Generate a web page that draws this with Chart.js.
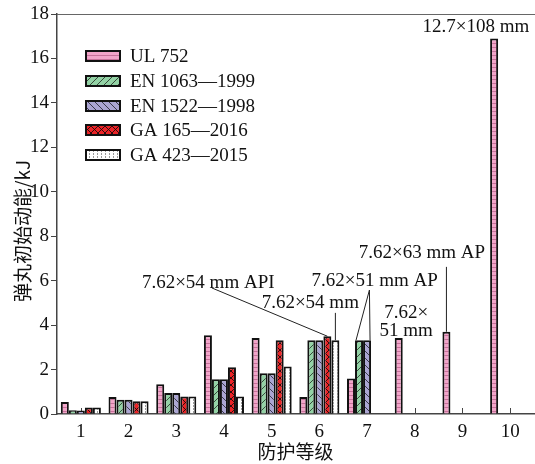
<!DOCTYPE html>
<html>
<head>
<meta charset="utf-8">
<script src="https://cdn.jsdelivr.net/npm/chart.js@4/dist/chart.umd.min.js"></script>
<style>
html,body{margin:0;padding:0;background:#fff;}
canvas{display:block;}
</style>
</head>
<body>
<canvas id="c" width="535" height="464"></canvas>
<script>
// ---- data ----
const categories = ['1','2','3','4','5','6','7','8','9','10'];
const seriesNames = ['UL 752','EN 1063\u20141999','EN 1522\u20141998','GA 165\u20142016','GA 423\u20142015'];
const ul752   = [0.54, 0.76, 1.34, 3.54, 3.42, 0.76, 1.60, 3.42, 3.70, 16.90];
const en1063  = [0.17, 0.64, 0.94, 1.56, 1.83, 3.32, 3.32, null, null, null];
const en1522  = [0.16, 0.64, 0.94, 1.56, 1.83, 3.32, 3.32, null, null, null];
const ga165   = [0.29, 0.57, 0.79, 2.10, 3.32, 3.50, null, null, null, null];
const ga423   = [0.29, 0.57, 0.79, 0.79, 2.14, 3.32, null, null, null, null];
const yTicks  = [0,2,4,6,8,10,12,14,16,18];
const yTitle = '弹丸初始动能/kJ';
const xTitle = '防护等级';

// ---- patterns ----
function pat(w,h,draw){
  const c=document.createElement('canvas'); c.width=w; c.height=h;
  const g=c.getContext('2d'); draw(g,w,h);
  return document.getElementById('c').getContext('2d').createPattern(c,'repeat');
}
const pUL = pat(8,4,(g,w,h)=>{g.fillStyle='#f2a4c9';g.fillRect(0,0,w,h);g.fillStyle='#c7719a';g.fillRect(0,3,w,1);});
const pEN1 = pat(7,7,(g,w,h)=>{g.fillStyle='#93d2a5';g.fillRect(0,0,w,h);g.strokeStyle='#2a3a2e';g.lineWidth=0.9;
  g.beginPath();g.moveTo(-1,h+1);g.lineTo(w+1,-1);g.stroke();});
const pEN2 = pat(7,7,(g,w,h)=>{g.fillStyle='#aba5d3';g.fillRect(0,0,w,h);g.strokeStyle='#2e2c3c';g.lineWidth=0.9;
  g.beginPath();g.moveTo(-1,-1);g.lineTo(w+1,h+1);g.stroke();});
const pGA1 = pat(7,7,(g,w,h)=>{g.fillStyle='#ea2326';g.fillRect(0,0,w,h);g.strokeStyle='#1a0a0a';g.lineWidth=0.9;
  g.beginPath();g.moveTo(-1,-1);g.lineTo(w+1,h+1);g.moveTo(-1,h+1);g.lineTo(w+1,-1);g.stroke();});
const pGA2 = pat(4,3,(g,w,h)=>{g.fillStyle='#ffffff';g.fillRect(0,0,w,h);g.fillStyle='#9a9a9a';g.fillRect(1,0,1,2);});
const fills = [pUL,pEN1,pEN2,pGA1,pGA2];
const seriesData = [ul752,en1063,en1522,ga165,ga423];

const serif = '"Liberation Serif","DejaVu Serif",serif';
const cjk = '"Noto Sans CJK SC","Noto Sans CJK JP",sans-serif';

// annotation positions in data units (category index, value)
const annotations = [
  {text:'12.7\u00d7108 mm', x:8.28, y:17.42},
  {text:'7.62\u00d763 mm AP', x:7.15, y:7.25},
  {text:'7.62\u00d751 mm AP', x:6.16, y:5.99},
  {text:'7.62\u00d754 mm API', x:2.67, y:5.90},
  {text:'7.62\u00d754 mm', x:4.81, y:5.00},
  {text:'7.62\u00d7', x:6.82, y:4.55},
  {text:'51 mm', x:6.82, y:3.74}
];

const decor = {
  id:'decor',
  beforeDatasetsDraw(chart){
    const {ctx,chartArea:a,scales:{x}}=chart;
    ctx.save();
    ctx.strokeStyle='#444';ctx.lineWidth=1;
    categories.forEach((c,i)=>{const px=Math.round(x.getPixelForValue(i))+0.5;
      ctx.beginPath();ctx.moveTo(px,a.bottom);ctx.lineTo(px,a.bottom-6);ctx.stroke();});
    ctx.strokeStyle='#666';ctx.lineWidth=1.2;
    ctx.beginPath();ctx.moveTo(a.left,a.top+0.5);ctx.lineTo(chart.width,a.top+0.5);ctx.stroke();
    ctx.restore();
  },
  afterDraw(chart){
    const {ctx,chartArea:a,scales:{x,y}}=chart;
    ctx.save();
    const rows=[56,81,106,130,155];
    ctx.font='19px '+serif;ctx.textBaseline='middle';ctx.textAlign='left';
    seriesNames.forEach((n,i)=>{
      const yy=rows[i];
      ctx.fillStyle=fills[i];ctx.fillRect(85,yy-6,36,12);
      ctx.strokeStyle='#111';ctx.lineWidth=2;ctx.strokeRect(86,yy-5,34,10);
      ctx.fillStyle='#111';ctx.fillText(n,130,yy+1);
    });
    ctx.font='19px '+serif;ctx.textAlign='center';ctx.fillStyle='#111';
    annotations.forEach(an=>{ctx.fillText(an.text,x.getPixelForValue(an.x),y.getPixelForValue(an.y));});
    const bar=(ds,i)=>chart.getDatasetMeta(ds).data[i];
    ctx.strokeStyle='#222';ctx.lineWidth=1;
    const line=(x1,y1,x2,y2)=>{ctx.beginPath();ctx.moveTo(x1,y1);ctx.lineTo(x2,y2);ctx.stroke();};
    let b=bar(0,8); line(b.x,y.getPixelForValue(6.62),b.x,b.y);
    const apx=x.getPixelForValue(6.05), apy=y.getPixelForValue(5.58);
    let b1=bar(1,6), b2=bar(2,6);
    line(apx,apy,b1.x-b1.width/2+1,b1.y); line(apx,apy,b2.x+b2.width/2-1,b2.y);
    b=bar(3,5); line(x.getPixelForValue(2.75),y.getPixelForValue(5.67),b.x,b.y);
    b=bar(4,5); line(b.x,y.getPixelForValue(4.55),b.x,b.y);
    ctx.font='19px '+cjk;ctx.fillStyle='#111';ctx.textBaseline='middle';ctx.textAlign='center';
    ctx.fillText(xTitle,(a.left+a.right)/2,452);
    ctx.translate(23,231);ctx.rotate(-Math.PI/2);ctx.fillText(yTitle,0,0);
    ctx.restore();
  }
};

new Chart(document.getElementById('c'),{
  type:'bar',
  data:{labels:categories,datasets:seriesData.map((d,i)=>({
    label:seriesNames[i],data:d,backgroundColor:fills[i],borderColor:'#111',borderWidth:2,
    categoryPercentage:0.84,barPercentage:1.0
  }))},
  options:{
    responsive:false,animation:false,devicePixelRatio:1,
    layout:{padding:{left:0,top:14,right:1,bottom:0}},
    plugins:{legend:{display:false},tooltip:{enabled:false}},
    scales:{
      x:{
        grid:{display:true,drawOnChartArea:false,drawTicks:false},
        border:{display:true,color:'#444',width:1.5},
        ticks:{font:{family:serif,size:19},color:'#111',padding:7,maxRotation:0},
        afterFit(s){s.height=50;}
      },
      y:{
        min:0,max:18,
        afterBuildTicks(s){s.ticks=yTicks.map(v=>({value:v}));},
        grid:{display:true,drawOnChartArea:false,drawTicks:true,tickLength:6,color:'#444'},
        border:{display:true,color:'#444',width:1.5},
        ticks:{font:{family:serif,size:19},color:'#111',padding:2},
        afterFit(s){s.width=57;}
      }
    }
  },
  plugins:[decor]
});
</script>
</body>
</html>
